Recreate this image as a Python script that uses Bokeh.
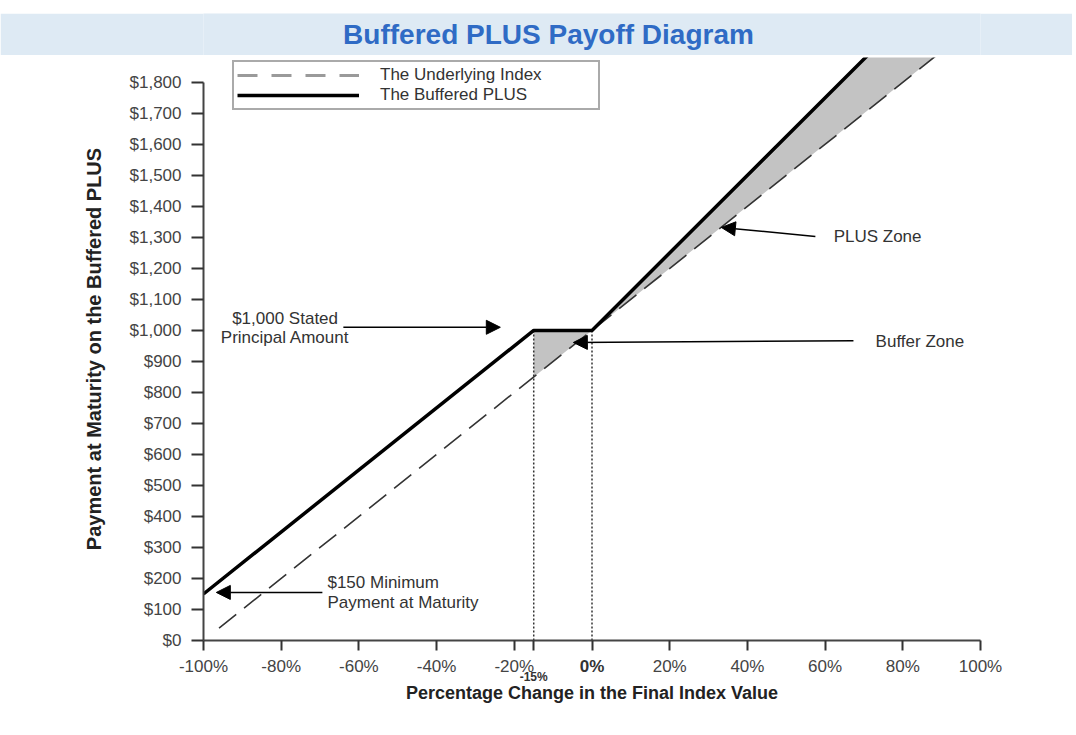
import numpy as np
from bokeh.plotting import figure
from bokeh.layouts import column
from bokeh.models import (Range1d, FixedTicker, NumeralTickFormatter, Legend, LegendItem,
                          Arrow, NormalHead, LinearAxis, Spacer)
from bokeh.core.properties import value
from bokeh.embed import file_html
from bokeh.resources import INLINE

# ---------------- data ----------------
title_text = "Buffered PLUS Payoff Diagram"

x_ticks = [-100, -80, -60, -40, -20, -15, 0, 20, 40, 60, 80, 100]
y_ticks = list(range(0, 1900, 100))

index_pct = [-96, 100]          # The Underlying Index (dashed)
index_value = [40, 2000]

plus_pct = [-100, -15, 0, 100]  # The Buffered PLUS (solid)
plus_value = [150, 1000, 1000, 2250]

buffer_pct = [-15, 0]           # dotted guides
principal = 1000

# annotation texts and anchors (data units)
note_text = ["$1,000 Stated", "Principal Amount", "Buffer  Zone", "PLUS Zone",
             "$150 Minimum", "Payment at Maturity"]
note_x = [-79.0, -79.0, 73.0, 62.2, -68.1, -68.1]
note_y = [1038, 977, 964, 1303, 187, 123]
note_align = ["center", "center", "left", "left", "left", "left"]

arrow_tail_x = [-64.0, 67.3, 57.5, -69.4]
arrow_tail_y = [1010, 967, 1303, 155]
arrow_tip_x = [-23.6, -4.8, 33.3, -96.7]
arrow_tip_y = [1010, 961, 1332, 155]

FONT = "Liberation Sans"
BAR = "#deeaf4"

# ---------------- title bar ----------------
t = figure(frame_width=777, frame_height=42, min_border_left=203, min_border_right=92,
           min_border_top=0, min_border_bottom=0,
           x_range=Range1d(0, 1), y_range=Range1d(0, 1),
           x_axis_type=None, y_axis_type=None,
           output_backend="svg", toolbar_location=None)
t.background_fill_color = BAR
t.border_fill_color = BAR
t.outline_line_color = None
t.xgrid.visible = False
t.ygrid.visible = False
t.text(x=[0.444], y=[0.5], text=[title_text], text_align="center", text_baseline="middle",
       text_font=value(FONT), text_font_size="28px", text_font_style="bold",
       text_color="#2f6bc5")

# ---------------- main chart ----------------
p = figure(frame_width=777, frame_height=583,
           min_border_left=203, min_border_right=92, min_border_top=2, min_border_bottom=83,
           x_range=Range1d(-100, 100), y_range=Range1d(0, 1880),
           output_backend="svg", toolbar_location=None)
p.outline_line_color = None
p.xgrid.visible = False
p.ygrid.visible = False
p.background_fill_color = "white"
p.border_fill_color = "white"

# shaded zones (buffer zone + PLUS zone)
shade_x = plus_pct[1:]
shade_lo = np.interp(shade_x, index_pct, index_value)
shade_hi = np.interp(shade_x, plus_pct, plus_value)
p.varea(x=shade_x, y1=shade_lo, y2=shade_hi, fill_color="#c3c3c3", fill_alpha=1)

# dotted guides
p.segment(x0=buffer_pct, y0=[0, 0], x1=buffer_pct, y1=[principal, principal],
          line_color="#333333", line_width=1.5, line_dash="2 2")

# lines
p.line(index_pct, index_value, line_color="#333333", line_width=1.6, line_dash="22 10")
p.line(plus_pct, plus_value, line_color="black", line_width=3.5)

# legend (sample renderers kept outside the visible ranges)
off_x = [-300, -200]
off_y = [-500, -500]
leg_idx = p.line(off_x, off_y, line_color="#9a9a9a", line_width=3, line_dash="20 14")
leg_plus = p.line(off_x, off_y, line_color="black", line_width=3.5)
legend = Legend(items=[LegendItem(label="The Underlying Index", renderers=[leg_idx]),
                       LegendItem(label="The Buffered PLUS", renderers=[leg_plus])],
                location=(29, 530), orientation="vertical",
                glyph_width=122, glyph_height=18, label_height=18, label_width=215,
                label_standoff=21, spacing=0, padding=3, margin=0,
                label_text_font=FONT, label_text_font_size="17px", label_text_color="#333333",
                border_line_color="#555555", border_line_width=2,
                background_fill_color="white", background_fill_alpha=1)
p.add_layout(legend)

# annotation texts
p.text(x=note_x, y=note_y, text=note_text, text_align=note_align, text_baseline="middle",
       text_font=value(FONT), text_font_size="17px", text_color="#333333")

for tx, ty, hx, hy in zip(arrow_tail_x, arrow_tail_y, arrow_tip_x, arrow_tip_y):
    p.add_layout(Arrow(x_start=tx, y_start=ty, x_end=hx, y_end=hy,
                       line_color="black", line_width=1.5,
                       end=NormalHead(size=14, fill_color="black", line_color="black")))

# axes
xa = p.xaxis[0]
xa.ticker = FixedTicker(ticks=x_ticks)
xa.major_label_overrides = {v: ("" if v in (-15, 0) else f"{v}%") for v in x_ticks}
xa.bounds = (-100, 100)
ya = p.yaxis[0]
ya.ticker = FixedTicker(ticks=y_ticks)
ya.formatter = NumeralTickFormatter(format="$0,0")
ya.bounds = (0, 1800)
ya.axis_label = "Payment at Maturity on the Buffered PLUS"
for ax in (xa, ya):
    ax.axis_line_color = "#444444"
    ax.axis_line_width = 2
    ax.major_tick_line_color = "#333333"
    ax.major_tick_line_width = 2
    ax.major_tick_in = 0
    ax.minor_tick_line_color = None
    ax.major_label_text_font = FONT
    ax.major_label_text_font_size = "17px"
    ax.major_label_text_color = "#444444"
    ax.axis_label_text_font = FONT
    ax.axis_label_text_font_size = "20px"
    ax.axis_label_text_font_style = "bold"
    ax.axis_label_text_color = "#222222"
xa.major_tick_out = 10
xa.major_label_standoff = 6
ya.major_tick_out = 12
ya.major_label_standoff = 10
ya.axis_label_standoff = 22

# bold 0% label (pulled up into the first label row)
xz = LinearAxis(ticker=FixedTicker(ticks=[0]), major_label_overrides={0: "0%"},
                axis_line_color=None, major_tick_line_color=None, minor_tick_line_color=None,
                major_tick_out=0, major_tick_in=0, major_label_standoff=-22,
                major_label_text_font=FONT, major_label_text_font_size="17px",
                major_label_text_font_style="bold", major_label_text_color="#333333")
p.add_layout(xz, "below")

# second row below the x axis: the -15% mark and the axis title
xb = LinearAxis(ticker=FixedTicker(ticks=[-15]), major_label_overrides={-15: "-15%"},
                axis_line_color=None, major_tick_line_color=None, minor_tick_line_color=None,
                major_tick_out=0, major_tick_in=0, major_label_standoff=-9,
                major_label_text_font=FONT, major_label_text_font_size="12px",
                major_label_text_font_style="bold", major_label_text_color="#333333",
                axis_label="Percentage Change in the Final Index Value",
                axis_label_text_font=FONT, axis_label_text_font_size="18px",
                axis_label_text_font_style="bold", axis_label_text_color="#222222",
                axis_label_standoff=-4)
p.add_layout(xb, "below")

layout = column(Spacer(height=13), t, p, spacing=0)
open("out.html", "w").write(file_html(layout, INLINE))
